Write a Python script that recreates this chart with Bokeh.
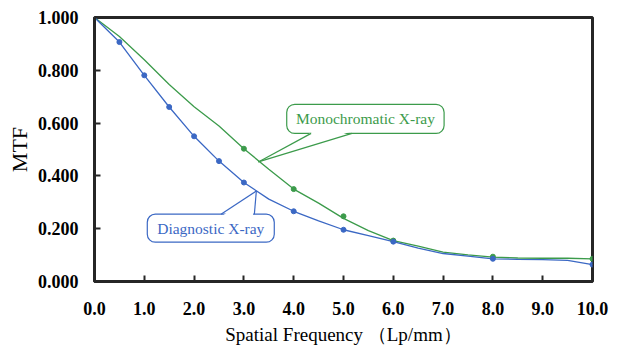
from bokeh.plotting import figure
from bokeh.models import (Range1d, FixedTicker, BoxAnnotation, PolyAnnotation, Label,
                          CustomJSTickFormatter)
from bokeh.embed import file_html
from bokeh.resources import INLINE

# ---- data ----
# Diagnostic X-ray (blue)
diag_x = [0.0, 0.5, 1.0, 1.5, 2.0, 2.5, 3.0, 4.0, 5.0, 6.0, 8.0, 10.0]
diag_y = [1.000, 0.907, 0.781, 0.661, 0.550, 0.456, 0.375, 0.266, 0.196, 0.151, 0.086, 0.064]
diag_line_x = [0.0, 0.5, 1.0, 1.5, 2.0, 2.5, 3.0, 3.5, 4.0, 4.5, 5.0, 5.5, 6.0, 6.5, 7.0, 7.5, 8.0, 8.5, 9.0, 9.5, 10.0]
diag_line_y = [1.000, 0.907, 0.781, 0.661, 0.550, 0.456, 0.375, 0.312, 0.266, 0.230, 0.196, 0.174, 0.151, 0.126, 0.106, 0.096, 0.086, 0.084, 0.083, 0.080, 0.064]

# Monochromatic X-ray (green)
mono_x = [0.0, 3.0, 4.0, 5.0, 6.0, 8.0, 10.0]
mono_y = [1.000, 0.503, 0.350, 0.247, 0.155, 0.094, 0.086]
mono_line_x = [0.0, 0.5, 1.0, 1.5, 2.0, 2.5, 3.0, 3.5, 4.0, 4.5, 5.0, 5.5, 6.0, 6.5, 7.0, 7.5, 8.0, 8.5, 9.0, 9.5, 10.0]
mono_line_y = [1.000, 0.928, 0.840, 0.746, 0.662, 0.589, 0.503, 0.425, 0.350, 0.297, 0.239, 0.193, 0.155, 0.134, 0.111, 0.101, 0.092, 0.089, 0.088, 0.088, 0.086]

x_ticks = [0, 1, 2, 3, 4, 5, 6, 7, 8, 9, 10]
y_ticks = [0.0, 0.2, 0.4, 0.6, 0.8, 1.0]

BLUE = "#3B68C4"
GREEN = "#3C9B4B"
INK = "#262626"
SERIF = "Liberation Serif"

W, H = 618, 347
LEFT, RIGHT, TOP, BOTTOM = 94, 26, 17, 64
XMIN, XMAX, YMIN, YMAX = 0, 10, 0, 1

p = figure(width=W, height=H, output_backend="svg", toolbar_location=None,
           x_range=Range1d(XMIN, XMAX), y_range=Range1d(YMIN, YMAX),
           min_border_left=LEFT, min_border_right=RIGHT, min_border_top=TOP, min_border_bottom=BOTTOM)
p.grid.visible = False
p.outline_line_color = INK
p.outline_line_width = 3
p.outline_line_alpha = 1.0
p.background_fill_color = "white"
p.border_fill_color = "white"

# axes
p.xaxis.ticker = FixedTicker(ticks=x_ticks)
p.yaxis.ticker = FixedTicker(ticks=y_ticks)
p.xaxis.formatter = CustomJSTickFormatter(code="return tick.toFixed(1);")
p.yaxis.formatter = CustomJSTickFormatter(code="return tick.toFixed(3);")
for ax in (p.xaxis, p.yaxis):
    ax.axis_line_color = INK
    ax.axis_line_width = 3
    ax.major_tick_line_color = INK
    ax.major_tick_line_width = 2
    ax.major_tick_in = 6
    ax.major_tick_out = 0
    ax.minor_tick_line_color = None
    ax.major_label_text_font = SERIF
    ax.major_label_text_font_style = "bold"
    ax.major_label_text_font_size = "18px"
    ax.major_label_text_color = "black"
    ax.axis_label_text_font = SERIF
    ax.axis_label_text_font_style = "normal"
    ax.axis_label_text_color = "black"
p.xaxis.major_label_standoff = 20
p.yaxis.major_label_standoff = 16
p.xaxis.axis_label = "Spatial Frequency （Lp/mm）"
p.xaxis.axis_label_text_font_size = "19px"
p.xaxis.axis_label_standoff = 6
p.yaxis.axis_label = "MTF"
p.yaxis.axis_label_text_font_size = "22px"
p.yaxis.axis_label_standoff = 3

# lines and markers
p.line(mono_line_x, mono_line_y, line_color=GREEN, line_width=1.3)
p.line(diag_line_x, diag_line_y, line_color=BLUE, line_width=1.3)
p.scatter(mono_x, mono_y, size=5, color=GREEN)
p.scatter(diag_x, diag_y, size=5, color=BLUE)

# callouts
def callout(left, right, bottom, top, base_y, base_x1, base_x2, tip_x, tip_y, text, color, inside):
    p.add_layout(BoxAnnotation(left=left, right=right, bottom=bottom, top=top,
                               fill_color="white", fill_alpha=1.0,
                               line_color=color, line_alpha=1.0, line_width=1.2, border_radius=8))
    cover = PolyAnnotation(xs=[base_x1 + 0.03, base_x2 - 0.03, tip_x],
                           ys=[base_y + inside, base_y + inside, tip_y],
                           fill_color="white", fill_alpha=1.0, line_alpha=0)
    p.add_layout(cover)
    seg = p.segment(x0=[base_x1, base_x2], y0=[base_y, base_y], x1=[tip_x, tip_x], y1=[tip_y, tip_y],
                    line_color=color, line_width=1.2)
    seg.level = "overlay"
    p.add_layout(Label(x=(left + right) / 2, y=(bottom + top) / 2, text=text,
                       text_align="center", text_baseline="middle",
                       text_font=SERIF, text_font_size="15.5px", text_color=color))

callout(3.86, 7.02, 0.561, 0.671, 0.561, 4.35, 5.17, 3.29, 0.453,
        "Monochromatic X-ray", GREEN, 0.006)
callout(1.06, 3.61, 0.149, 0.255, 0.255, 2.54, 3.21, 3.25, 0.343,
        "Diagnostic X-ray", BLUE, -0.006)

open("out.html", "w").write(file_html(p, INLINE))
